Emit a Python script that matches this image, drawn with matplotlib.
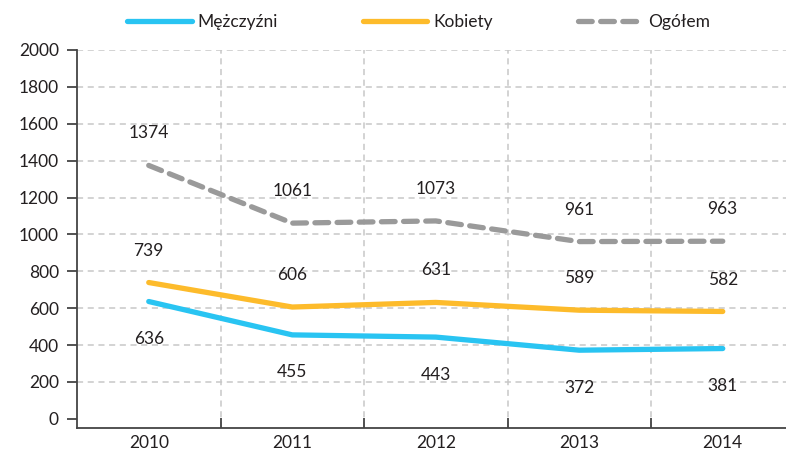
import numpy as np
import matplotlib
matplotlib.use("Agg")
import matplotlib.pyplot as plt

plt.rcParams['font.family'] = ['Lato', 'DejaVu Sans']

years = ['2010', '2011', '2012', '2013', '2014']
men = [636, 455, 443, 372, 381]
women = [739, 606, 631, 589, 582]
total = [1374, 1061, 1073, 961, 963]

blue = '#29c4f2'
yellow = '#fdbb2b'
gray = '#9a9a9a'
txt = '#231f20'
fs = 12.5

fig = plt.figure(figsize=(7.86, 4.5), dpi=100)
ax = fig.add_axes([77/786, 22/450, 709/786, 378/450])

x = np.arange(len(years))
l1, = ax.plot(x, men, color=blue, lw=3.8, solid_capstyle='round', label='Mężczyźni', zorder=3)
l2, = ax.plot(x, women, color=yellow, lw=3.8, solid_capstyle='round', label='Kobiety', zorder=3)
l3, = ax.plot(x, total, color=gray, lw=3.8, dashes=(2.6, 1.6), dash_capstyle='round',
              label='Ogółem', zorder=3)

for i in range(len(years)):
    ax.annotate(str(total[i]), (x[i], total[i]), xytext=(0, 23), textcoords='offset points',
                ha='center', va='center', fontsize=fs, color=txt)
    ax.annotate(str(women[i]), (x[i], women[i]), xytext=(0, 23), textcoords='offset points',
                ha='center', va='center', fontsize=fs, color=txt)
    ax.annotate(str(men[i]), (x[i], men[i]), xytext=(0, -27), textcoords='offset points',
                ha='center', va='center', fontsize=fs, color=txt)

ax.set_xlim(-0.5, -0.5 + 709/143.5)
ax.set_ylim(-50, 2000)
ax.set_yticks(range(0, 2001, 200))
ax.set_xticks(x)
ax.set_xticklabels(years)
ax.set_xticks(x[:-1] + 0.5, minor=True)

for s in ['top', 'right']:
    ax.spines[s].set_visible(False)
for s in ['left', 'bottom']:
    ax.spines[s].set_color('#444444')
    ax.spines[s].set_linewidth(1.3)

ax.tick_params(axis='y', direction='out', length=7, width=1.3, color='#444444',
               labelsize=fs, labelcolor=txt, pad=6)
ax.tick_params(axis='x', which='major', length=0, labelsize=fs, labelcolor=txt, pad=5)
ax.tick_params(axis='x', which='minor', direction='in', length=7, width=1.3, color='#444444')

for v in range(200, 2001, 200):
    ax.axhline(v, color='#c8c8c8', lw=1.1, dashes=(4, 3), zorder=1)
for b in x[:-1] + 0.5:
    ax.axvline(b, color='#c8c8c8', lw=1.1, dashes=(4, 3), zorder=1)

fig.legend(handles=[l1, l2, l3], loc='center', bbox_to_anchor=(0.533, 0.95), ncol=3,
           frameon=False, fontsize=fs, handlelength=3.7, handletextpad=0.35,
           columnspacing=4.9, labelcolor=txt)

fig.savefig('out.png', dpi=100)
